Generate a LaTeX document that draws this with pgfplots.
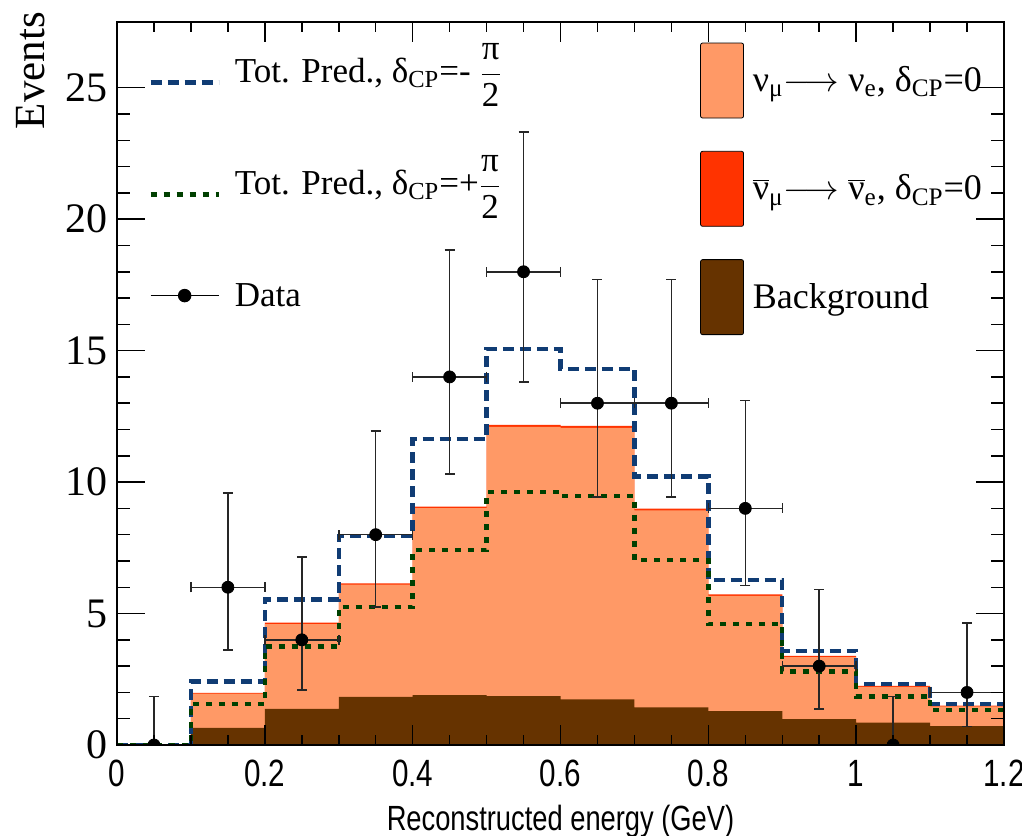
\documentclass[border=0pt]{standalone}
\usepackage{fontspec}
\setmainfont{Liberation Serif}
\newfontfamily\xsans[FakeStretch=0.78]{Liberation Sans}
\usepackage{pgfplots}
\pgfplotsset{compat=1.18}
\usepackage{pgfplotstable}

\definecolor{nuorange}{RGB}{255,153,102}
\definecolor{nubarred}{RGB}{255,51,0}
\definecolor{bgbrown}{RGB}{102,51,0}
\definecolor{predblue}{RGB}{16,60,116}
\definecolor{predgreen}{RGB}{0,64,0}

% bin lower edges; last row repeats the last bin to close the step
\pgfplotstableread{
x    tot   nu    bg    blue   green
0.0  0     0     0     0      0
0.1  1.98  1.95  0.65  2.41   1.56
0.2  4.65  4.60  1.37  5.54   3.74
0.3  6.15  6.10  1.83  7.95   5.26
0.4  9.07  9.01  1.90  11.65  7.42
0.5  12.18 12.10 1.86  15.07  9.62
0.6  12.14 12.06 1.74  14.31  9.47
0.7  8.99  8.92  1.43  10.21  7.04
0.8  5.73  5.67  1.29  6.28   4.60
0.9  3.39  3.34  0.98  3.58   2.79
1.0  2.25  2.21  0.85  2.31   1.84
1.1  1.50  1.47  0.72  1.55   1.33
1.2  1.50  1.47  0.72  1.55   1.33
}\hist

\pgfplotstableread{
x     y   ex    eym   eyp
0.05  0   0.05  0     1.84
0.15  6   0.05  2.38  3.58
0.25  4   0.05  1.91  3.16
0.35  8   0.05  2.76  3.94
0.45  14  0.05  3.70  4.83
0.55  18  0.05  4.20  5.32
0.65  13  0.05  3.56  4.70
0.75  13  0.05  3.56  4.70
0.85  9   0.05  2.94  4.11
0.95  3   0.05  1.63  2.92
1.05  0   0.05  0     1.84
1.15  2   0.05  1.29  2.64
}\data

\pgfplotsset{
  myaxis/.style={scale only axis, width=443.5pt, height=361.5pt,
    xmin=0, xmax=1.2, ymin=0, ymax=27.5, at={(0pt,0pt)}, anchor=south west},
  boxlegend/.style={legend image code/.code={%
    \fill[##1, rounded corners=1pt] (0pt,-18.75pt) rectangle (21.5pt,18.75pt);}},
  linelegend/.style={legend image code/.code={%
    \draw[##1] (0pt,0pt) -- (34pt,0pt);}},
  datalegend/.style={legend image code/.code={%
    \draw[black, line width=0.75pt, mark=*, mark size=3pt, mark indices={2}]
      plot coordinates {(0pt,0pt) (17pt,0pt) (34pt,0pt)};}},
}

\begin{document}
\begin{tikzpicture}
% ---- filled stack + right legend
\begin{axis}[myaxis, hide axis,
  legend style={at={(rel axis cs:0.657,0.972)}, anchor=north west, draw=none, fill=none,
    row sep=16.25pt, inner sep=0pt, font=\fontsize{18}{18}\selectfont,
    nodes={inner xsep=4.5pt}},
  legend cell align=left]
\addplot[const plot mark left, fill=nubarred, draw=none, forget plot] table[x=x,y=tot]{\hist} \closedcycle;
\addplot[const plot mark left, fill=nuorange, draw=none, forget plot] table[x=x,y=nu]{\hist} \closedcycle;
\addplot[const plot mark left, fill=bgbrown, draw=none, forget plot] table[x=x,y=bg]{\hist} \closedcycle;
\addlegendimage{boxlegend, fill=nuorange}
\addlegendentry{ν\textsubscript{μ}$\longrightarrow$ ν\textsubscript{e}, δ\textsubscript{CP}=0}
\addlegendimage{boxlegend, fill=nubarred}
\addlegendentry{$\overline{\hbox{ν}}$\textsubscript{μ}$\longrightarrow$ $\overline{\hbox{ν}}$\textsubscript{e}, δ\textsubscript{CP}=0}
\addlegendimage{boxlegend, fill=bgbrown}
\addlegendentry{Background}
\end{axis}
% ---- frame, predictions, data, left legend
\begin{axis}[myaxis, axis on top, clip marker paths=true,
  axis line style={line width=1pt},
  /pgf/number format/assume math mode=true,
  xtick={0,0.2,0.4,0.6,0.8,1,1.2}, minor x tick num=3,
  ytick={0,5,10,15,20,25}, minor y tick num=4,
  tick style={line width=0.75pt, black},
  major tick length=14pt, minor tick length=6.5pt,
  major x tick style={/pgfplots/major tick length=10pt},
  minor x tick style={/pgfplots/minor tick length=5pt},
  xticklabel style={font=\xsans\fontsize{19}{19}\selectfont, anchor=base, yshift=-20.5pt, inner sep=0pt},
  yticklabel style={font=\fontsize{21}{21}\selectfont, anchor=east, inner sep=0pt, xshift=-4.5pt},
  xlabel={Reconstructed energy (GeV)},
  xlabel style={font=\xsans\fontsize{17.5}{17.5}\selectfont, at={(axis description cs:0.5,0)}, anchor=base, yshift=-42.5pt},
  legend style={at={(rel axis cs:0.035,0.961)}, anchor=north west, draw=none, fill=none,
    row sep=24pt, inner sep=0pt, font=\fontsize{17.5}{17.5}\selectfont,
    nodes={inner xsep=7pt, text height=14pt, text depth=14pt}},
  legend cell align=left]
\addplot[const plot mark left, predblue, line width=2.2pt, dash pattern=on 5.5pt off 3pt, linelegend]
  table[x=x,y=blue]{\hist};
\addlegendentry{Tot. Pred., δ\textsubscript{CP}=- $\displaystyle\frac{\hbox{π}}{\hbox{2}}$}
\addplot[const plot mark left, predgreen, line width=2.2pt, dash pattern=on 3pt off 3.5pt, linelegend]
  table[x=x,y=green]{\hist};
\addlegendentry{Tot. Pred., δ\textsubscript{CP}=+$\displaystyle\frac{\hbox{π}}{\hbox{2}}$}
\addplot[only marks, mark=*, mark size=3pt, black, forget plot,
  error bars/.cd, x dir=both, x explicit, y dir=both, y explicit,
  error bar style={line width=0.75pt, black!85},
  error mark options={rotate=90, mark size=2.5pt, line width=0.75pt, black!85},
  ] table[x=x, y=y, x error=ex, y error plus=eyp, y error minus=eym]{\data};
\addlegendimage{datalegend}
\addlegendentry[text height=14pt, text depth=3pt]{Data}
\end{axis}
\node[rotate=90, anchor=east, font=\fontsize{21.5}{21.5}\selectfont] at (-43pt,370pt) {Events};
\pgfresetboundingbox
\path (-58.5pt,-45pt) rectangle (452.5pt,372.5pt);
\end{tikzpicture}
\end{document}
